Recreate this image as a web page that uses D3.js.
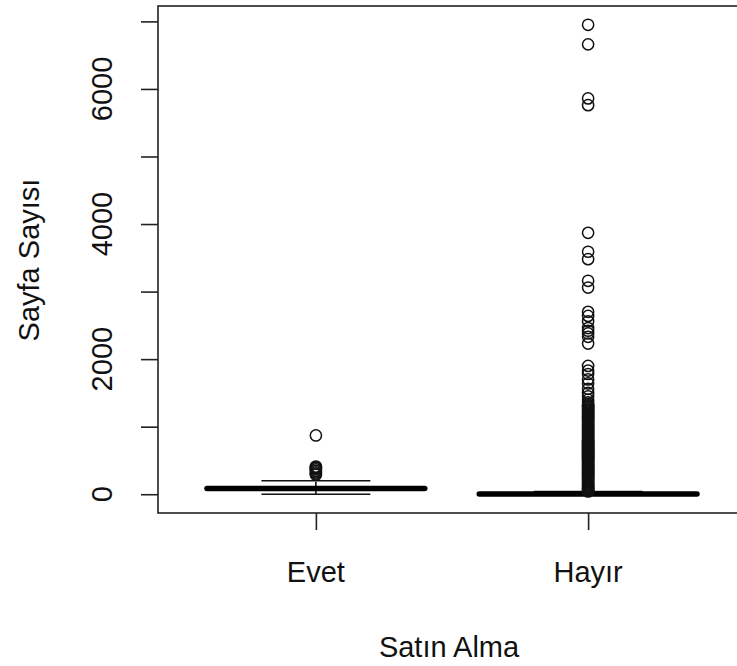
<!DOCTYPE html>
<html>
<head>
<meta charset="utf-8">
<script src="https://cdn.jsdelivr.net/npm/d3@7"></script>
<style>
  body { margin: 0; background: #fff; }
  text { font-family: "Liberation Sans", Arial, sans-serif; fill: #111; }
</style>
</head>
<body>
<div id="chart"></div>
<script>
// groups and box stats (lower whisker, q1, median, q3, upper whisker)
const groups = ['Evet', 'Hayır']
const lowerWhisker = [0, 0]
const q1 = [60, 0]
const median = [85, 3]
const q3 = [110, 15]
const upperWhisker = [200, 38]

// outliers
const outEvet = [870, 410, 398, 385, 368, 345, 322, 305, 288]
const outHayir = [
  6950, 6660, 5860, 5760, 3870, 3590, 3480, 3160, 3060,
  2700, 2640, 2560, 2460, 2420, 2380, 2330, 2230,
  1900, 1830, 1780, 1700, 1640, 1560, 1500, 1450, 1400, 1360,
  1330, 1315, 1300, 1290, 1270, 1255, 1240, 1225, 1210, 1195,
  1180, 1165, 1150, 1140, 1120, 1105, 1090, 1075, 1060, 1045,
  1030, 1015, 1000, 985, 970, 955, 940, 925, 910, 895,
  880, 865, 850, 835, 820, 805, 790, 775, 760, 745,
  730, 715, 700, 685, 670, 655, 640, 625, 610, 595,
  580, 565, 550, 535, 520, 505, 490, 475, 460, 445,
  430, 415, 400, 385, 370, 355, 340, 325, 310, 295,
  280, 265, 250, 235, 220, 205, 190, 175, 160, 145,
  130, 115, 100, 88, 75, 62, 50, 42
]
const outliers = [outEvet, outHayir]

const yTicks = [0, 1000, 2000, 3000, 4000, 5000, 6000, 7000]
const yLabels = [0, 2000, 4000, 6000]

const width = 737
const height = 666
const plot = { left: 158, right: 746, top: 6, bottom: 513 }

const svg = d3
  .select('#chart')
  .append('svg')
  .attr('width', width)
  .attr('height', height)

// R style: 4% extension on both axes
const allValues = [].concat(...outliers, lowerWhisker, upperWhisker)
const ymin = d3.min(allValues)
const ymax = d3.max(allValues)
const ext = (ymax - ymin) * 0.04

const xPositionScale = d3.scaleLinear()
  .domain([0.42, 2.58])
  .range([plot.left, plot.right])
const yPositionScale = d3.scaleLinear()
  .domain([ymin - ext, ymax + ext])
  .range([plot.bottom, plot.top])

const boxHalf = 0.4
const stapleHalf = 0.2
const ink = '#111'

groups.forEach((name, i) => {
  const cx = xPositionScale(i + 1)
  const g = svg.append('g').attr('class', 'box')

  // whiskers (dashed like R)
  g.append('line')
    .attr('x1', cx).attr('x2', cx)
    .attr('y1', yPositionScale(q3[i])).attr('y2', yPositionScale(upperWhisker[i]))
    .attr('stroke', ink).attr('stroke-width', 1.6).attr('stroke-dasharray', '5,4')
  g.append('line')
    .attr('x1', cx).attr('x2', cx)
    .attr('y1', yPositionScale(q1[i])).attr('y2', yPositionScale(lowerWhisker[i]))
    .attr('stroke', ink).attr('stroke-width', 1.6).attr('stroke-dasharray', '5,4')

  // staples
  ;[lowerWhisker[i], upperWhisker[i]].forEach(v => {
    g.append('line')
      .attr('x1', xPositionScale(i + 1 - stapleHalf))
      .attr('x2', xPositionScale(i + 1 + stapleHalf))
      .attr('y1', yPositionScale(v)).attr('y2', yPositionScale(v))
      .attr('stroke', ink).attr('stroke-width', 1.6)
  })

  // box
  g.append('rect')
    .attr('x', xPositionScale(i + 1 - boxHalf))
    .attr('width', xPositionScale(i + 1 + boxHalf) - xPositionScale(i + 1 - boxHalf))
    .attr('y', yPositionScale(q3[i]))
    .attr('height', yPositionScale(q1[i]) - yPositionScale(q3[i]))
    .attr('fill', 'none').attr('stroke', ink).attr('stroke-width', 1.6)

  // median
  g.append('line')
    .attr('x1', xPositionScale(i + 1 - boxHalf))
    .attr('x2', xPositionScale(i + 1 + boxHalf))
    .attr('y1', yPositionScale(median[i])).attr('y2', yPositionScale(median[i]))
    .attr('stroke', '#000').attr('stroke-width', 5.5).attr('stroke-linecap', 'round')

  // outliers
  g.selectAll('.outlier')
    .data(outliers[i])
    .enter()
    .append('circle')
    .attr('class', 'outlier')
    .attr('cx', cx)
    .attr('cy', d => yPositionScale(d))
    .attr('r', 5.6)
    .attr('fill', 'none')
    .attr('stroke', ink)
    .attr('stroke-width', 1.5)
})

// plot frame
svg.append('rect')
  .attr('x', plot.left)
  .attr('y', plot.top)
  .attr('width', plot.right - plot.left)
  .attr('height', plot.bottom - plot.top)
  .attr('fill', 'none')
  .attr('stroke', '#222')
  .attr('stroke-width', 1.6)

// y axis
const yAxis = d3.axisLeft(yPositionScale)
  .tickValues(yTicks)
  .tickSize(17)
  .tickFormat('')
svg.append('g')
  .attr('transform', 'translate(' + plot.left + ',0)')
  .call(yAxis)
  .call(g => g.select('.domain').remove())
  .call(g => g.selectAll('.tick line').attr('stroke', '#222').attr('stroke-width', 1.6))

svg.selectAll('.ylabel')
  .data(yLabels)
  .enter()
  .append('text')
  .attr('class', 'ylabel')
  .attr('transform', d => 'translate(111.5,' + yPositionScale(d) + ') rotate(-90)')
  .attr('text-anchor', 'middle')
  .style('font-size', '29px')
  .text(d => d)

// x axis
const xAxis = d3.axisBottom(xPositionScale)
  .tickValues([1, 2])
  .tickSize(17)
  .tickFormat('')
svg.append('g')
  .attr('transform', 'translate(0,' + plot.bottom + ')')
  .call(xAxis)
  .call(g => g.select('.domain').remove())
  .call(g => g.selectAll('.tick line').attr('stroke', '#222').attr('stroke-width', 1.6))

svg.selectAll('.xlabel')
  .data(groups)
  .enter()
  .append('text')
  .attr('class', 'xlabel')
  .attr('x', (d, i) => xPositionScale(i + 1))
  .attr('y', 582)
  .attr('text-anchor', 'middle')
  .style('font-size', '29px')
  .text(d => d)

// axis titles
svg.append('text')
  .attr('x', 449)
  .attr('y', 657)
  .attr('text-anchor', 'middle')
  .style('font-size', '29px')
  .text('Satın Alma')

svg.append('text')
  .attr('transform', 'translate(38.5,260) rotate(-90)')
  .attr('text-anchor', 'middle')
  .style('font-size', '29px')
  .text('Sayfa Sayısı')
</script>
</body>
</html>
